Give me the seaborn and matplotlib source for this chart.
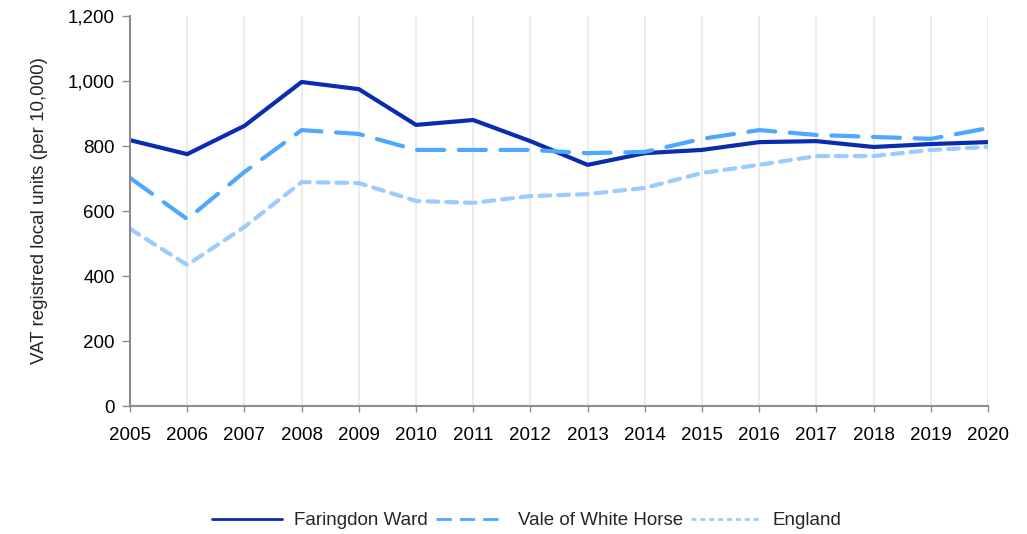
import matplotlib
matplotlib.use("Agg")
import matplotlib.pyplot as plt
import seaborn as sns
import pandas as pd
from matplotlib.ticker import FuncFormatter
from matplotlib.lines import Line2D

years = list(range(2005, 2021))
faringdon = [818, 775, 862, 997, 975, 865, 880, 815, 742, 778, 788, 812, 815, 797, 806, 812]
vale = [702, 575, 720, 849, 837, 788, 788, 788, 778, 782, 822, 849, 834, 828, 822, 855]
england = [545, 434, 551, 689, 686, 631, 625, 646, 652, 671, 717, 742, 769, 769, 788, 797]
series_names = ["Faringdon Ward", "Vale of White Horse", "England"]

df = pd.DataFrame({"year": years * 3,
                   "value": faringdon + vale + england,
                   "area": sum([[n] * len(years) for n in series_names], [])})

sns.set_style("white")
plt.rcParams["font.family"] = ["Liberation Sans", "DejaVu Sans"]

fig = plt.figure(figsize=(10.27, 5.34), dpi=100)
ax = fig.add_axes([0.1266, 0.2397, 0.8354, 0.7303])

palette = {"Faringdon Ward": "#0A2DAF", "Vale of White Horse": "#4FA8FF", "England": "#9CCBFF"}
dashes = {"Faringdon Ward": "", "Vale of White Horse": (6.5, 3.5), "England": (2.6, 1.9)}
sns.lineplot(data=df, x="year", y="value", hue="area", style="area",
             palette=palette, dashes=dashes, linewidth=3, ax=ax, legend=False)
for line in ax.get_lines():
    line.set_dash_capstyle("round")
    line.set_solid_joinstyle("round")

ax.set_xlim(2005, 2020)
ax.set_ylim(0, 1200)
ax.set_xticks(years)
ax.set_yticks(range(0, 1201, 200))
ax.yaxis.set_major_formatter(FuncFormatter(lambda v, p: f"{int(v):,}"))
ax.grid(axis="x", color="#E8E8E8", linewidth=1.2)
ax.grid(axis="y", visible=False)
ax.set_axisbelow(True)
for side in ["top", "right"]:
    ax.spines[side].set_visible(False)
for side in ["left", "bottom"]:
    ax.spines[side].set_color("#8C8C8C")
    ax.spines[side].set_linewidth(1.5)
ax.tick_params(axis="both", which="both", width=1, color="#8C8C8C",
               direction="out", labelsize=13.5, colors="#8C8C8C", labelcolor="black")
ax.tick_params(axis="y", left=True, length=6, pad=5)
ax.tick_params(axis="x", bottom=True, length=4, pad=11)
ax.set_xlabel("")
ax.set_ylabel("VAT registred local units (per 10,000)", fontsize=13.5, labelpad=14)

legend_dashes = {"Faringdon Ward": "-", "Vale of White Horse": (0, (5.5, 2.9)), "England": (0, (1.8, 1.4))}
handles = [Line2D([], [], color=palette[n], linewidth=2, linestyle=legend_dashes[n]) for n in series_names]
fig.legend(handles, series_names, loc="center", bbox_to_anchor=(0.513, 0.025),
           ncol=3, frameon=False, fontsize=13.5, handlelength=3.7, columnspacing=0.45, handletextpad=0.65)

fig.savefig("out.png", dpi=100)
